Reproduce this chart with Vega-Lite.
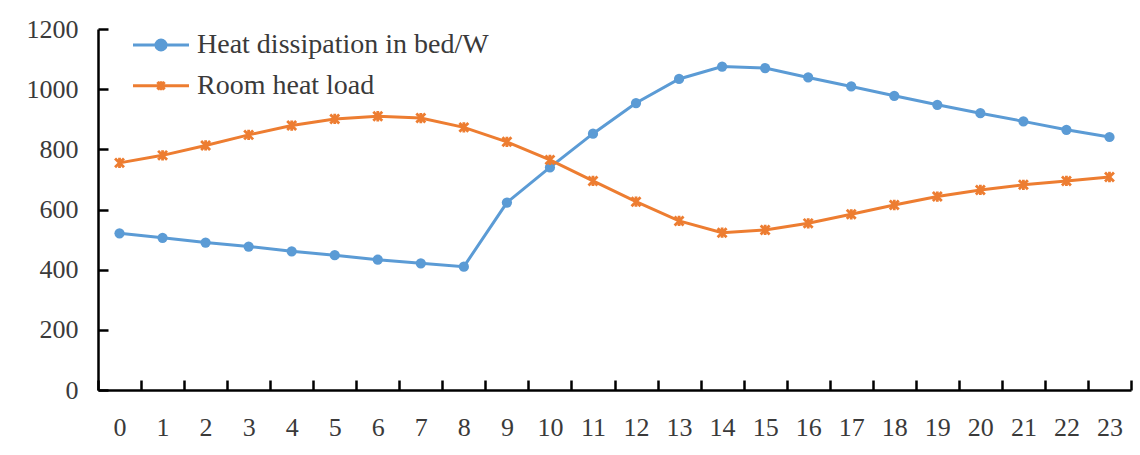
{
  "$schema": "https://vega.github.io/schema/vega-lite/v6.json",
  "width": 1033,
  "height": 361,
  "autosize": {"type": "none"},
  "padding": {"left": 98, "top": 29, "right": 9, "bottom": 65},
  "background": "white",
  "config": {
    "view": {"stroke": null},
    "font": "Liberation Serif",
    "axis": {"labelFont": "Liberation Serif", "grid": false},
    "legend": {"labelFont": "Liberation Serif"}
  },
  "data": {
    "values": [
      {"hour": 0, "series": "Heat dissipation in bed/W", "value": 521},
      {"hour": 1, "series": "Heat dissipation in bed/W", "value": 506},
      {"hour": 2, "series": "Heat dissipation in bed/W", "value": 490},
      {"hour": 3, "series": "Heat dissipation in bed/W", "value": 477},
      {"hour": 4, "series": "Heat dissipation in bed/W", "value": 461},
      {"hour": 5, "series": "Heat dissipation in bed/W", "value": 448},
      {"hour": 6, "series": "Heat dissipation in bed/W", "value": 433},
      {"hour": 7, "series": "Heat dissipation in bed/W", "value": 421},
      {"hour": 8, "series": "Heat dissipation in bed/W", "value": 410},
      {"hour": 9, "series": "Heat dissipation in bed/W", "value": 623},
      {"hour": 10, "series": "Heat dissipation in bed/W", "value": 740},
      {"hour": 11, "series": "Heat dissipation in bed/W", "value": 852},
      {"hour": 12, "series": "Heat dissipation in bed/W", "value": 954},
      {"hour": 13, "series": "Heat dissipation in bed/W", "value": 1034},
      {"hour": 14, "series": "Heat dissipation in bed/W", "value": 1075},
      {"hour": 15, "series": "Heat dissipation in bed/W", "value": 1070},
      {"hour": 16, "series": "Heat dissipation in bed/W", "value": 1039},
      {"hour": 17, "series": "Heat dissipation in bed/W", "value": 1009},
      {"hour": 18, "series": "Heat dissipation in bed/W", "value": 978},
      {"hour": 19, "series": "Heat dissipation in bed/W", "value": 948},
      {"hour": 20, "series": "Heat dissipation in bed/W", "value": 920},
      {"hour": 21, "series": "Heat dissipation in bed/W", "value": 893},
      {"hour": 22, "series": "Heat dissipation in bed/W", "value": 865},
      {"hour": 23, "series": "Heat dissipation in bed/W", "value": 841},
      {"hour": 0, "series": "Room heat load", "value": 755},
      {"hour": 1, "series": "Room heat load", "value": 780},
      {"hour": 2, "series": "Room heat load", "value": 813},
      {"hour": 3, "series": "Room heat load", "value": 848},
      {"hour": 4, "series": "Room heat load", "value": 879},
      {"hour": 5, "series": "Room heat load", "value": 901},
      {"hour": 6, "series": "Room heat load", "value": 910},
      {"hour": 7, "series": "Room heat load", "value": 904},
      {"hour": 8, "series": "Room heat load", "value": 873},
      {"hour": 9, "series": "Room heat load", "value": 825},
      {"hour": 10, "series": "Room heat load", "value": 765},
      {"hour": 11, "series": "Room heat load", "value": 695},
      {"hour": 12, "series": "Room heat load", "value": 626},
      {"hour": 13, "series": "Room heat load", "value": 562},
      {"hour": 14, "series": "Room heat load", "value": 523},
      {"hour": 15, "series": "Room heat load", "value": 532},
      {"hour": 16, "series": "Room heat load", "value": 554},
      {"hour": 17, "series": "Room heat load", "value": 584},
      {"hour": 18, "series": "Room heat load", "value": 615},
      {"hour": 19, "series": "Room heat load", "value": 643},
      {"hour": 20, "series": "Room heat load", "value": 665},
      {"hour": 21, "series": "Room heat load", "value": 682},
      {"hour": 22, "series": "Room heat load", "value": 695},
      {"hour": 23, "series": "Room heat load", "value": 708}
    ]
  },
  "encoding": {
    "x": {
      "field": "hour",
      "type": "quantitative",
      "scale": {"domain": [-0.5, 23.5], "nice": false, "zero": false},
      "axis": {
        "title": null,
        "values": [-0.5, 0.5, 1.5, 2.5, 3.5, 4.5, 5.5, 6.5, 7.5, 8.5, 9.5, 10.5, 11.5, 12.5, 13.5, 14.5, 15.5, 16.5, 17.5, 18.5, 19.5, 20.5, 21.5, 22.5, 23.5],
        "labelExpr": "datum.value < 23 ? format(datum.value + 0.5, 'd') : ''",
        "labelOffset": 21.52,
        "labelOverlap": false,
        "labelBound": false,
        "labelFlush": false,
        "labelFontSize": 26,
        "labelColor": "#3a3a3a",
        "labelPadding": 34,
        "tickSize": -10,
        "tickWidth": 2.5,
        "tickColor": "#000000",
        "domainColor": "#000000",
        "domainWidth": 2.5
      }
    },
    "y": {
      "field": "value",
      "type": "quantitative",
      "scale": {"domain": [0, 1200], "nice": false},
      "axis": {
        "title": null,
        "values": [0, 200, 400, 600, 800, 1000, 1200],
        "format": "d",
        "labelFontSize": 26,
        "labelColor": "#3a3a3a",
        "labelPadding": 30,
        "tickSize": -10,
        "tickWidth": 2.5,
        "tickColor": "#000000",
        "domainColor": "#000000",
        "domainWidth": 2.5
      }
    }
  },
  "layer": [
    {
      "mark": {"type": "line", "strokeWidth": 3},
      "encoding": {
        "color": {
          "field": "series",
          "type": "nominal",
          "scale": {
            "domain": ["Heat dissipation in bed/W", "Room heat load"],
            "range": ["#5B9BD5", "#ED7D31"]
          },
          "legend": {
            "title": null,
            "orient": "none",
            "legendX": 33.5,
            "legendY": -4,
            "padding": 0,
            "symbolSize": 3136,
            "symbolStrokeWidth": 3,
            "labelFontSize": 28,
            "labelColor": "#3a3a3a",
            "labelLimit": 0,
            "labelOffset": 6.5,
            "rowPadding": 0.7,
            "clipHeight": 40,
            "encode": {
              "symbols": {
                "update": {
                  "shape": {"signal": "datum.value === 'Heat dissipation in bed/W' ? 'M-1,0L1,0M0.18,0A0.18,0.18,0,1,1,-0.18,0A0.18,0.18,0,1,1,0.18,0Z' : 'M-1,0L1,0M-0.13,-0.13L0.13,0.13M-0.13,0.13L0.13,-0.13M0,-0.16L0,0.16'"},
                  "fill": {"scale": "color", "field": "value"},
                  "stroke": {"scale": "color", "field": "value"},
                  "strokeWidth": {"value": 3},
                  "opacity": {"value": 1}
                }
              }
            }
          }
        }
      }
    },
    {
      "transform": [{"filter": "datum.series === 'Heat dissipation in bed/W'"}],
      "mark": {"type": "point", "shape": "circle", "filled": true, "size": 105, "color": "#5B9BD5", "opacity": 1}
    },
    {
      "transform": [{"filter": "datum.series === 'Room heat load'"}],
      "mark": {"type": "point", "shape": "M-1,-1L1,1M-1,1L1,-1M0,-1.15L0,1.15", "filled": false, "size": 80, "color": "#ED7D31", "strokeWidth": 2.8, "opacity": 1}
    }
  ]
}
